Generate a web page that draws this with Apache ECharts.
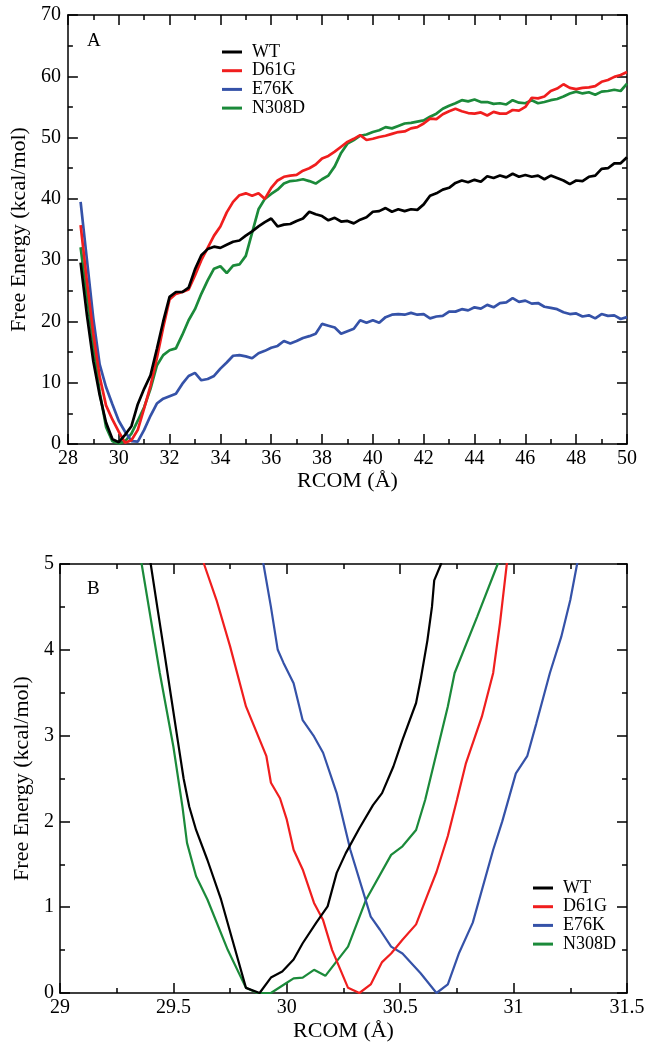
<!DOCTYPE html>
<html>
<head>
<meta charset="utf-8">
<script src="https://cdn.jsdelivr.net/npm/echarts@6/dist/echarts.min.js"></script>
<style>
html,body{margin:0;padding:0;background:#fff;}
#chart{width:653px;height:1050px;}
</style>
</head>
<body>
<div id="chart"></div>
<script>
// ---------- DATA ----------
const seriesNames = ['WT', 'D61G', 'E76K', 'N308D'];

// Panel A: shared RCOM grid (Å)
const xTop = [28.5,28.75,29,29.25,29.5,29.75,30,30.25,30.5,30.75,
  31,31.25,31.5,31.75,32,32.25,32.5,32.75,33,33.25,
  33.5,33.75,34,34.25,34.5,34.75,35,35.25,35.5,35.75,
  36,36.25,36.5,36.75,37,37.25,37.5,37.75,38,38.25,
  38.5,38.75,39,39.25,39.5,39.75,40,40.25,40.5,40.75,
  41,41.25,41.5,41.75,42,42.25,42.5,42.75,43,43.25,
  43.5,43.75,44,44.25,44.5,44.75,45,45.25,45.5,45.75,
  46,46.25,46.5,46.75,47,47.25,47.5,47.75,48,48.25,
  48.5,48.75,49,49.25,49.5,49.75,50];

const wtTop = [29.6,21,13.5,8,3.5,0.8,0.3,1.5,2.9,6.5,
  9,11.2,15.5,20,24,24.8,24.8,25.5,28.5,30.8,
  31.8,32.2,32.0,32.5,33.0,33.2,34.0,34.7,35.5,36.2,
  36.8,35.5,35.8,35.9,36.4,36.8,37.9,37.5,37.2,36.5,
  36.9,36.3,36.4,36.0,36.6,37.0,37.9,38.0,38.5,37.9,
  38.3,38.0,38.3,38.2,39.1,40.5,40.9,41.5,41.8,42.6,
  43.0,42.7,43.1,42.8,43.7,43.4,43.8,43.5,44.1,43.6,
  43.9,43.6,43.8,43.2,43.8,43.4,43.0,42.4,43.0,42.9,
  43.6,43.8,44.9,45.0,45.8,45.8,46.8];

const d61gTop = [35.7,26.5,18,11,6.3,4.0,2.0,0.2,0.6,2.3,
  5.8,9.5,14,19,23.6,24.5,24.8,25.2,27.5,30.0,
  32.0,34.0,35.5,37.8,39.5,40.6,40.9,40.5,40.9,40.0,
  41.8,43.0,43.6,43.8,43.9,44.6,45.0,45.6,46.6,47.0,
  47.7,48.5,49.3,49.8,50.4,49.6,49.8,50.1,50.3,50.6,
  50.9,51.0,51.5,51.7,52.3,53.1,53.0,53.8,54.3,54.7,
  54.3,54.0,53.9,54.1,53.6,54.2,53.9,53.9,54.5,54.4,
  55.0,56.5,56.4,56.7,57.6,58.0,58.7,58.1,57.9,58.1,
  58.2,58.4,59.1,59.4,59.9,60.2,60.7];

const e76kTop = [39.5,30,20.5,13,9.3,6.5,3.8,2.0,0.48,0.4,
  2.3,4.6,6.6,7.4,7.8,8.2,9.8,11.1,11.6,10.4,
  10.6,11.1,12.3,13.3,14.4,14.5,14.3,14.0,14.8,15.2,
  15.7,16.0,16.8,16.4,16.8,17.3,17.6,18.0,19.6,19.3,
  19.0,18.0,18.4,18.8,20.2,19.8,20.2,19.8,20.7,21.1,
  21.2,21.1,21.4,21.1,21.2,20.5,20.8,20.9,21.6,21.6,
  22.0,21.8,22.3,22.1,22.7,22.3,23.0,23.1,23.8,23.2,
  23.4,22.9,23.0,22.4,22.2,22.0,21.5,21.2,21.3,20.8,
  21.0,20.5,21.2,20.9,21.0,20.4,20.7];

const n308dTop = [32.1,24,16,8.5,2.8,0.45,0.1,0.45,1.7,3.8,
  6.0,9.0,12.8,14.5,15.3,15.6,17.8,20.2,22.0,24.5,
  26.7,28.6,29.0,27.9,29.1,29.3,30.7,34.5,38.3,40.0,
  40.8,41.5,42.5,42.9,43.0,43.2,42.9,42.5,43.2,43.8,
  45.3,47.5,49.0,49.6,50.3,50.5,50.9,51.2,51.7,51.5,
  51.9,52.3,52.4,52.6,52.8,53.4,53.9,54.7,55.2,55.6,
  56.1,55.9,56.2,55.8,55.8,55.5,55.6,55.4,56.1,55.7,
  55.6,56.1,55.6,55.8,56.1,56.3,56.7,57.2,57.5,57.2,
  57.4,57.0,57.5,57.6,57.8,57.6,58.8];

// Panel B: zoom on the minima
const wtBX = [29.38,29.40,29.43,29.46,29.49,29.52,29.545,29.57,29.60,29.65,29.71,29.76,29.82,29.88,29.93,29.98,30.03,30.07,30.13,30.18,30.22,30.26,30.32,30.38,30.42,30.47,30.51,30.57,30.59,30.62,30.64,30.65,30.68,30.70];
const wtBY = [5.3,5.0,4.48,3.97,3.45,2.93,2.5,2.17,1.9,1.55,1.09,0.62,0.06,0,0.18,0.25,0.39,0.58,0.82,1.01,1.4,1.63,1.92,2.19,2.33,2.64,2.95,3.38,3.65,4.11,4.5,4.81,5.0,5.3];

const d61gBX = [29.62,29.635,29.69,29.75,29.82,29.91,29.93,29.97,30.0,30.03,30.07,30.12,30.16,30.2,30.27,30.32,30.37,30.42,30.46,30.51,30.57,30.62,30.66,30.71,30.75,30.79,30.86,30.91,30.94,30.97,30.98];
const d61gBY = [5.3,5.0,4.58,4.04,3.34,2.76,2.45,2.27,2.02,1.67,1.44,1.05,0.85,0.5,0.06,0,0.1,0.36,0.46,0.62,0.8,1.14,1.41,1.83,2.25,2.68,3.22,3.73,4.31,5.0,5.3];

const e76kBX = [29.88,29.897,29.93,29.96,29.985,30.03,30.07,30.12,30.16,30.22,30.28,30.37,30.41,30.46,30.51,30.59,30.66,30.71,30.76,30.82,30.91,30.95,31.01,31.06,31.1,31.16,31.21,31.25,31.28,31.3];
const e76kBY = [5.3,5.0,4.5,4.0,3.85,3.61,3.18,2.99,2.8,2.33,1.67,0.89,0.74,0.54,0.46,0.23,0,0.1,0.47,0.82,1.67,2.0,2.56,2.76,3.14,3.73,4.15,4.58,5.0,5.3];

const n308dBX = [29.34,29.36,29.44,29.5,29.54,29.56,29.6,29.65,29.74,29.82,29.87,29.93,30.0,30.03,30.07,30.12,30.17,30.27,30.35,30.46,30.51,30.57,30.61,30.71,30.74,30.84,30.93,30.95];
const n308dBY = [5.3,5.0,3.73,2.87,2.17,1.75,1.36,1.09,0.5,0.06,0,0,0.12,0.17,0.18,0.27,0.2,0.54,1.09,1.61,1.71,1.9,2.25,3.34,3.73,4.39,5.0,5.2];

// ---------- STYLE ----------
const FONT = "'Liberation Serif','Times New Roman',serif";
const colors = {WT:'#000000', D61G:'#f01e1e', E76K:'#3552a8', N308D:'#1b8a3a'};

function pairs(xs, ys){ return xs.map((x,i)=>[x, ys[i]]); }

const gridA = {left:60, right:26, top:15, height:429};
const gridB = {left:60, right:26, top:564, height:429};

function xAx(grid, min, max, interval, pos, showLabel, name, nameGap){
  return {
    type:'value', gridIndex:grid, min:min, max:max, interval:interval, position:pos,
    name: name || '', nameLocation:'middle', nameGap: nameGap || 0,
    nameTextStyle:{fontFamily:FONT, fontSize:22, color:'#000'},
    axisLine:{show:true, onZero:false, lineStyle:{color:'#000', width:1.5}},
    axisTick:{show:true, inside:true, length:10, lineStyle:{color:'#000', width:1.5}},
    minorTick:{show:true, splitNumber:2, length:5, lineStyle:{color:'#000', width:1.5}},
    axisLabel:{show:showLabel, fontFamily:FONT, fontSize:20, color:'#000', margin:5},
    splitLine:{show:false}
  };
}
function yAx(grid, min, max, interval, pos, showLabel, name, nameGap, margin){
  return {
    type:'value', gridIndex:grid, min:min, max:max, interval:interval, position:pos,
    name: name || '', nameLocation:'middle', nameGap: nameGap || 0,
    nameTextStyle:{fontFamily:FONT, fontSize:22, color:'#000'},
    axisLine:{show:true, onZero:false, lineStyle:{color:'#000', width:1.5}},
    axisTick:{show:true, inside:true, length:10, lineStyle:{color:'#000', width:1.5}},
    minorTick:{show:true, splitNumber:2, length:5, lineStyle:{color:'#000', width:1.5}},
    axisLabel:{show:showLabel, fontFamily:FONT, fontSize:20, color:'#000', margin:margin||7},
    splitLine:{show:false}
  };
}

const topData = [wtTop, d61gTop, e76kTop, n308dTop];
const botX = [wtBX, d61gBX, e76kBX, n308dBX];
const botY = [wtBY, d61gBY, e76kBY, n308dBY];

const series = [];
seriesNames.forEach((n, i) => {
  series.push({
    name:n, type:'line', xAxisIndex:0, yAxisIndex:0,
    data: pairs(xTop, topData[i]), showSymbol:false, symbol:'none', clip:true,
    lineStyle:{color:colors[n], width:2.7}, itemStyle:{color:colors[n]},
    z: 10 - i
  });
});
seriesNames.forEach((n, i) => {
  series.push({
    name:n, type:'line', xAxisIndex:2, yAxisIndex:2,
    data: pairs(botX[i], botY[i]), showSymbol:false, symbol:'none', clip:true,
    lineStyle:{color:colors[n], width:2.2}, itemStyle:{color:colors[n]},
    z: 10 - i
  });
});

function legendAt(left, top){
  return {
    data: seriesNames, orient:'vertical', left:left, top:top, padding:0,
    itemWidth:20, itemHeight:12, itemGap:0.7, selectedMode:false,
    icon:'path://M0,5 L20,5 L20,8 L0,8 Z',
    textStyle:{fontFamily:FONT, fontSize:18, color:'#000', lineHeight:17, padding:[0,0,0,5]}
  };
}

const option = {
  animation:false,
  backgroundColor:'#fff',
  grid:[gridA, gridB],
  xAxis:[
    xAx(0, 28, 50, 2, 'bottom', true, 'RCOM (Å)', 22),
    xAx(0, 28, 50, 2, 'top', false),
    xAx(1, 29, 31.5, 0.5, 'bottom', true, 'RCOM (Å)', 27),
    xAx(1, 29, 31.5, 0.5, 'top', false)
  ],
  yAxis:[
    yAx(0, 0, 70, 10, 'left', true, 'Free Energy (kcal/mol)', 33, 7),
    yAx(0, 0, 70, 10, 'right', false),
    yAx(1, 0, 5, 1, 'left', true, 'Free Energy (kcal/mol)', 26, 6),
    yAx(1, 0, 5, 1, 'right', false)
  ],
  legend:[legendAt(222, 43), legendAt(533, 879)],
  graphic:[
    {type:'text', left:87, top:32, style:{text:'A', font:"19px 'Liberation Serif','Times New Roman',serif", fill:'#000'}},
    {type:'text', left:87, top:580, style:{text:'B', font:"19px 'Liberation Serif','Times New Roman',serif", fill:'#000'}}
  ],
  series: series
};

const chart = echarts.init(document.getElementById('chart'), null, {renderer:'canvas'});
chart.setOption(option);
</script>
</body>
</html>
